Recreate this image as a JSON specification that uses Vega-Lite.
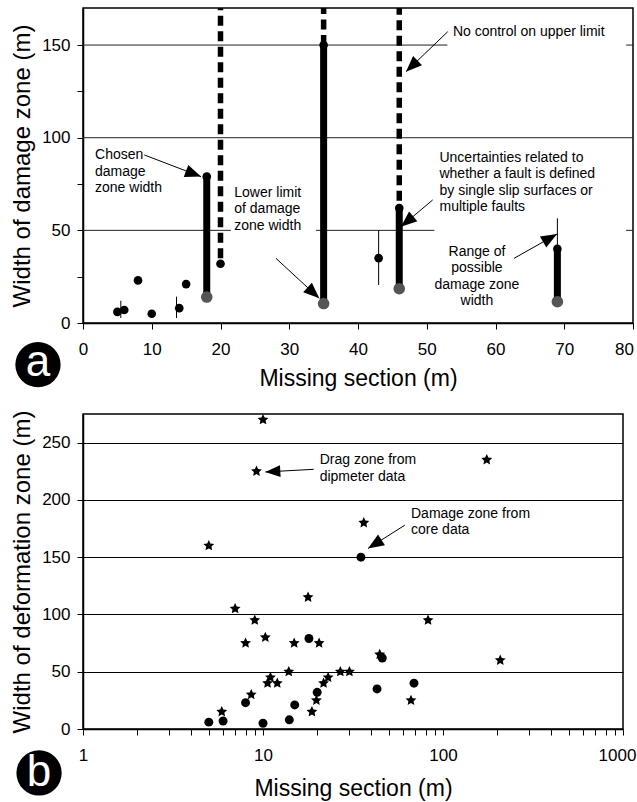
{
  "$schema": "https://vega.github.io/schema/vega-lite/v6.json",
  "padding": {"left": 9, "top": 4, "right": 5, "bottom": 2},
  "spacing": 18,
  "config": {
    "font": "Liberation Sans",
    "view": {"stroke": "black", "strokeWidth": 1.5},
    "axis": {
      "domainColor": "black", "domainWidth": 1.5, "tickColor": "black", "tickWidth": 1, "tickSize": 6,
      "labelFont": "Liberation Sans", "labelFontSize": 17, "labelColor": "black", "labelFlush": false, "labelOverlap": false,
      "titleFont": "Liberation Sans", "titleFontWeight": "normal", "titleColor": "black", "grid": false
    },
    "axisX": {"labelPadding": 12, "titleFontSize": 23, "titlePadding": 10},
    "axisY": {"labelPadding": 7, "titleFontSize": 24, "titlePadding": 7}
  },
  "datasets": {
    "core": [
      {"ms": 5, "w": 6}, {"ms": 6, "w": 7}, {"ms": 8, "w": 23}, {"ms": 10, "w": 5}, {"ms": 14, "w": 8},
      {"ms": 15, "w": 21}, {"ms": 18, "w": 79}, {"ms": 20, "w": 32}, {"ms": 35, "w": 150}, {"ms": 43, "w": 35},
      {"ms": 46, "w": 62}, {"ms": 69, "w": 40}
    ],
    "drag": [
      {"ms": 10, "w": 270}, {"ms": 9.2, "w": 225}, {"ms": 5, "w": 160}, {"ms": 7, "w": 105}, {"ms": 9, "w": 95},
      {"ms": 8, "w": 75}, {"ms": 10.3, "w": 80}, {"ms": 14.9, "w": 75}, {"ms": 17.8, "w": 115}, {"ms": 20.5, "w": 75},
      {"ms": 13.9, "w": 50}, {"ms": 11, "w": 45}, {"ms": 10.6, "w": 40}, {"ms": 12, "w": 40}, {"ms": 8.6, "w": 30},
      {"ms": 5.9, "w": 15}, {"ms": 18.7, "w": 15}, {"ms": 19.8, "w": 25}, {"ms": 21.7, "w": 40}, {"ms": 23, "w": 45},
      {"ms": 26.9, "w": 50}, {"ms": 30.2, "w": 50}, {"ms": 36.3, "w": 180}, {"ms": 44.5, "w": 65}, {"ms": 82.6, "w": 95},
      {"ms": 175, "w": 235}, {"ms": 208, "w": 60}, {"ms": 66.4, "w": 25}
    ],
    "ranges": [
      {"ms": 18, "lo": 14, "hi": 79}, {"ms": 35, "lo": 10.5, "hi": 150},
      {"ms": 46, "lo": 18.5, "hi": 62}, {"ms": 69, "lo": 11.5, "hi": 40}
    ],
    "open": [
      {"ms": 20, "lo": 35, "hi": 170}, {"ms": 35, "lo": 150, "hi": 170}, {"ms": 46, "lo": 66, "hi": 170}
    ],
    "spread": [
      {"ms": 5.5, "lo": 2.7, "hi": 12}, {"ms": 13.6, "lo": 2.7, "hi": 14.2},
      {"ms": 43, "lo": 20.5, "hi": 50}, {"ms": 69, "lo": 40, "hi": 56.5}
    ],
    "gridA": [
      {"y": 150, "x0": 0, "x1": 53}, {"y": 150, "x0": 79, "x1": 80},
      {"y": 100, "x0": 0, "x1": 80},
      {"y": 50, "x0": 0, "x1": 21.5}, {"y": 50, "x0": 33.9, "x1": 51.1}, {"y": 50, "x0": 79, "x1": 80}
    ],
    "notesA": [
      {"ms": 1.75, "w": 88.5, "t": "Chosen\ndamage\nzone width"},
      {"ms": 22.0, "w": 68.2, "t": "Lower limit\nof damage\nzone  width"},
      {"ms": 53.8, "w": 154.9, "t": "No control on upper limit"},
      {"ms": 51.85, "w": 87.0, "t": "Uncertainties related to\nwhether a fault is defined\nby  single slip surfaces or\nmultiple faults"}
    ],
    "notesA2": [
      {"ms": 57.3, "w": 36.2, "t": "Range of\npossible\ndamage zone\nwidth"}
    ],
    "notesB": [
      {"ms": 20.65, "w": 231, "t": "Drag  zone from\ndipmeter data"},
      {"ms": 66.4, "w": 184.6, "t": "Damage  zone from\ncore data"}
    ],
    "arrowsA": [
      {"id": 1, "x1": 8.92, "y1": 90.7, "x2": 17.16, "y2": 79.0},
      {"id": 2, "x1": 28.07, "y1": 34.9, "x2": 34.37, "y2": 13.3},
      {"id": 3, "x1": 53.05, "y1": 157.2, "x2": 46.98, "y2": 135.6},
      {"id": 4, "x1": 50.86, "y1": 66.4, "x2": 46.25, "y2": 52.0},
      {"id": 5, "x1": 62.7, "y1": 34.9, "x2": 68.95, "y2": 48.0}
    ],
    "arrowsB": [
      {"id": 6, "x1": 19.13, "y1": 226.7, "x2": 10.3, "y2": 224.4},
      {"id": 7, "x1": 61.3, "y1": 177.9, "x2": 38.3, "y2": 157.6}
    ],
    "tagA": [{"ms": -6.55, "w": -22.5, "t": "a"}],
    "tagB": [{"ms": 0.57, "w": -38.4, "t": "b"}]
  },
  "vconcat": [
    {
      "width": 550,
      "height": 315,
      "layer": [
        {
          "data": {"name": "gridA"},
          "mark": {"type": "rule", "color": "#222", "strokeWidth": 1},
          "encoding": {
            "x": {"field": "x0", "type": "quantitative", "scale": {"domain": [0, 80], "nice": false},
              "axis": {"values": [0, 5, 10, 15, 20, 25, 30, 35, 40, 45, 50, 55, 60, 65, 70, 75, 80],
                "labelExpr": "datum.value % 10 === 0 ? datum.label : ''",
                "labelOffset": {"condition": {"test": "datum.value === 80", "value": -9}, "value": 0},
                "title": "Missing section (m)"}},
            "x2": {"field": "x1"},
            "y": {"field": "y", "type": "quantitative", "scale": {"domain": [0, 170], "nice": false},
              "axis": {"values": [0, 25, 50, 75, 100, 125, 150],
                "labelExpr": "datum.value % 50 === 0 ? datum.label : ''", "title": "Width of damage zone (m)"}}
          }
        },
        {
          "data": {"name": "spread"},
          "mark": {"type": "rule", "color": "black", "strokeWidth": 1},
          "encoding": {
            "x": {"field": "ms", "type": "quantitative", "scale": {"domain": [0, 80], "nice": false}},
            "y": {"field": "lo", "type": "quantitative", "scale": {"domain": [0, 170], "nice": false}},
            "y2": {"field": "hi"}
          }
        },
        {
          "data": {"name": "open"},
          "mark": {"type": "rule", "color": "black", "strokeWidth": 5.5, "strokeDash": [10, 5.5]},
          "encoding": {
            "x": {"field": "ms", "type": "quantitative", "scale": {"domain": [0, 80], "nice": false}},
            "y": {"field": "lo", "type": "quantitative", "scale": {"domain": [0, 170], "nice": false}},
            "y2": {"field": "hi"}
          }
        },
        {
          "data": {"name": "ranges"},
          "mark": {"type": "rule", "color": "black", "strokeWidth": 7, "strokeCap": "round"},
          "encoding": {
            "x": {"field": "ms", "type": "quantitative", "scale": {"domain": [0, 80], "nice": false}},
            "y": {"field": "lo", "type": "quantitative", "scale": {"domain": [0, 170], "nice": false}},
            "y2": {"field": "hi"}
          }
        },
        {
          "data": {"name": "ranges"},
          "mark": {"type": "point", "shape": "circle", "filled": true, "size": 135, "color": "#555", "opacity": 1},
          "encoding": {
            "x": {"field": "ms", "type": "quantitative", "scale": {"domain": [0, 80], "nice": false}},
            "y": {"field": "lo", "type": "quantitative", "scale": {"domain": [0, 170], "nice": false}}
          }
        },
        {
          "data": {"name": "core"},
          "mark": {"type": "point", "shape": "circle", "filled": true, "size": 75, "color": "black", "opacity": 1},
          "encoding": {
            "x": {"field": "ms", "type": "quantitative", "scale": {"domain": [0, 80], "nice": false}},
            "y": {"field": "w", "type": "quantitative", "scale": {"domain": [0, 170], "nice": false}}
          }
        },
        {
          "data": {"name": "notesA"},
          "mark": {"type": "text", "align": "left", "baseline": "alphabetic", "fontSize": 14, "lineBreak": "\n", "lineHeight": 16.5, "color": "black"},
          "encoding": {
            "x": {"field": "ms", "type": "quantitative", "scale": {"domain": [0, 80], "nice": false}},
            "y": {"field": "w", "type": "quantitative", "scale": {"domain": [0, 170], "nice": false}},
            "text": {"field": "t"}
          }
        },
        {
          "data": {"name": "notesA2"},
          "mark": {"type": "text", "align": "center", "baseline": "alphabetic", "fontSize": 14, "lineBreak": "\n", "lineHeight": 16.5, "color": "black"},
          "encoding": {
            "x": {"field": "ms", "type": "quantitative", "scale": {"domain": [0, 80], "nice": false}},
            "y": {"field": "w", "type": "quantitative", "scale": {"domain": [0, 170], "nice": false}},
            "text": {"field": "t"}
          }
        },
        {
          "data": {"name": "arrowsA"},
          "mark": {"type": "rule", "color": "black", "strokeWidth": 1},
          "encoding": {
            "x": {"field": "x1", "type": "quantitative", "scale": {"domain": [0, 80], "nice": false}},
            "y": {"field": "y1", "type": "quantitative", "scale": {"domain": [0, 170], "nice": false}},
            "x2": {"field": "x2"},
            "y2": {"field": "y2"}
          }
        },
        {
          "data": {"name": "arrowsA"},
          "transform": [{"filter": "datum.id === 1"}],
          "mark": {"type": "point", "shape": "M0,0L-1,-0.4L-1,0.4Z", "size": 1024, "angle": 20.9, "filled": true, "color": "black", "opacity": 1, "strokeWidth": 0},
          "encoding": {
            "x": {"field": "x2", "type": "quantitative", "scale": {"domain": [0, 80], "nice": false}},
            "y": {"field": "y2", "type": "quantitative", "scale": {"domain": [0, 170], "nice": false}}
          }
        },
        {
          "data": {"name": "arrowsA"},
          "transform": [{"filter": "datum.id === 2"}],
          "mark": {"type": "point", "shape": "M0,0L-1,-0.4L-1,0.4Z", "size": 1024, "angle": 42.7, "filled": true, "color": "black", "opacity": 1, "strokeWidth": 0},
          "encoding": {
            "x": {"field": "x2", "type": "quantitative", "scale": {"domain": [0, 80], "nice": false}},
            "y": {"field": "y2", "type": "quantitative", "scale": {"domain": [0, 170], "nice": false}}
          }
        },
        {
          "data": {"name": "arrowsA"},
          "transform": [{"filter": "datum.id === 3"}],
          "mark": {"type": "point", "shape": "M0,0L-1,-0.4L-1,0.4Z", "size": 1024, "angle": 136.2, "filled": true, "color": "black", "opacity": 1, "strokeWidth": 0},
          "encoding": {
            "x": {"field": "x2", "type": "quantitative", "scale": {"domain": [0, 80], "nice": false}},
            "y": {"field": "y2", "type": "quantitative", "scale": {"domain": [0, 170], "nice": false}}
          }
        },
        {
          "data": {"name": "arrowsA"},
          "transform": [{"filter": "datum.id === 4"}],
          "mark": {"type": "point", "shape": "M0,0L-1,-0.4L-1,0.4Z", "size": 1024, "angle": 139.9, "filled": true, "color": "black", "opacity": 1, "strokeWidth": 0},
          "encoding": {
            "x": {"field": "x2", "type": "quantitative", "scale": {"domain": [0, 80], "nice": false}},
            "y": {"field": "y2", "type": "quantitative", "scale": {"domain": [0, 170], "nice": false}}
          }
        },
        {
          "data": {"name": "arrowsA"},
          "transform": [{"filter": "datum.id === 5"}],
          "mark": {"type": "point", "shape": "M0,0L-1,-0.4L-1,0.4Z", "size": 1024, "angle": -29.6, "filled": true, "color": "black", "opacity": 1, "strokeWidth": 0},
          "encoding": {
            "x": {"field": "x2", "type": "quantitative", "scale": {"domain": [0, 80], "nice": false}},
            "y": {"field": "y2", "type": "quantitative", "scale": {"domain": [0, 170], "nice": false}}
          }
        },
        {
          "data": {"name": "tagA"},
          "mark": {"type": "point", "shape": "circle", "filled": true, "size": 2050, "color": "black", "opacity": 1},
          "encoding": {
            "x": {"field": "ms", "type": "quantitative", "scale": {"domain": [0, 80], "nice": false}},
            "y": {"field": "w", "type": "quantitative", "scale": {"domain": [0, 170], "nice": false}}
          }
        },
        {
          "data": {"name": "tagA"},
          "mark": {"type": "text", "align": "center", "baseline": "alphabetic", "dy": 11, "fontSize": 44, "color": "white"},
          "encoding": {
            "x": {"field": "ms", "type": "quantitative", "scale": {"domain": [0, 80], "nice": false}},
            "y": {"field": "w", "type": "quantitative", "scale": {"domain": [0, 170], "nice": false}},
            "text": {"field": "t"}
          }
        }
      ]
    },
    {
      "width": 540,
      "height": 315,
      "layer": [
        {
          "data": {"name": "drag"},
          "mark": {"type": "point", "shape": "M0,-1L0.282,-0.388L0.951,-0.309L0.456,0.148L0.588,0.809L0,0.48L-0.588,0.809L-0.456,0.148L-0.951,-0.309L-0.282,-0.388Z", "size": 130, "filled": true, "color": "black", "opacity": 1, "strokeWidth": 0},
          "encoding": {
            "x": {"field": "ms", "type": "quantitative", "scale": {"type": "log", "domain": [1, 1000], "nice": false},
              "axis": {"values": [1, 2, 3, 4, 5, 6, 7, 8, 9, 10, 20, 30, 40, 50, 60, 70, 80, 90, 100, 200, 300, 400, 500, 600, 700, 800, 900, 1000],
                "labelExpr": "(datum.value === 1 || datum.value === 10 || datum.value === 100 || datum.value === 1000) ? format(datum.value, 'd') : ''",
                "labelOffset": {"condition": {"test": "datum.value === 1000", "value": -6}, "value": 0},
                "titlePadding": 14,
                "title": "Missing section (m)"}},
            "y": {"field": "w", "type": "quantitative", "scale": {"domain": [0, 275], "nice": false},
              "axis": {"values": [0, 25, 50, 75, 100, 125, 150, 175, 200, 225, 250],
                "labelExpr": "datum.value % 50 === 0 ? datum.label : ''", "title": "Width of deformation zone (m)",
                "grid": true, "gridWidth": 1.2,
                "gridColor": {"condition": {"test": "datum.value % 50 === 0 && datum.value > 0", "value": "black"}, "value": "transparent"}}}
          }
        },
        {
          "data": {"name": "core"},
          "mark": {"type": "point", "shape": "circle", "filled": true, "size": 80, "color": "black", "opacity": 1},
          "encoding": {
            "x": {"field": "ms", "type": "quantitative", "scale": {"type": "log", "domain": [1, 1000], "nice": false}},
            "y": {"field": "w", "type": "quantitative", "scale": {"domain": [0, 275], "nice": false}}
          }
        },
        {
          "data": {"name": "notesB"},
          "mark": {"type": "text", "align": "left", "baseline": "alphabetic", "fontSize": 14, "lineBreak": "\n", "lineHeight": 16.5, "color": "black"},
          "encoding": {
            "x": {"field": "ms", "type": "quantitative", "scale": {"type": "log", "domain": [1, 1000], "nice": false}},
            "y": {"field": "w", "type": "quantitative", "scale": {"domain": [0, 275], "nice": false}},
            "text": {"field": "t"}
          }
        },
        {
          "data": {"name": "arrowsB"},
          "mark": {"type": "rule", "color": "black", "strokeWidth": 1},
          "encoding": {
            "x": {"field": "x1", "type": "quantitative", "scale": {"type": "log", "domain": [1, 1000], "nice": false}},
            "y": {"field": "y1", "type": "quantitative", "scale": {"domain": [0, 275], "nice": false}},
            "x2": {"field": "x2"},
            "y2": {"field": "y2"}
          }
        },
        {
          "data": {"name": "arrowsB"},
          "transform": [{"filter": "datum.id === 6"}],
          "mark": {"type": "point", "shape": "M0,0L-1,-0.4L-1,0.4Z", "size": 900, "angle": 176.8, "filled": true, "color": "black", "opacity": 1, "strokeWidth": 0},
          "encoding": {
            "x": {"field": "x2", "type": "quantitative", "scale": {"type": "log", "domain": [1, 1000], "nice": false}},
            "y": {"field": "y2", "type": "quantitative", "scale": {"domain": [0, 275], "nice": false}}
          }
        },
        {
          "data": {"name": "arrowsB"},
          "transform": [{"filter": "datum.id === 7"}],
          "mark": {"type": "point", "shape": "M0,0L-1,-0.4L-1,0.4Z", "size": 1024, "angle": 147.6, "filled": true, "color": "black", "opacity": 1, "strokeWidth": 0},
          "encoding": {
            "x": {"field": "x2", "type": "quantitative", "scale": {"type": "log", "domain": [1, 1000], "nice": false}},
            "y": {"field": "y2", "type": "quantitative", "scale": {"domain": [0, 275], "nice": false}}
          }
        },
        {
          "data": {"name": "tagB"},
          "mark": {"type": "point", "shape": "circle", "filled": true, "size": 2050, "color": "black", "opacity": 1},
          "encoding": {
            "x": {"field": "ms", "type": "quantitative", "scale": {"type": "log", "domain": [1, 1000], "nice": false}},
            "y": {"field": "w", "type": "quantitative", "scale": {"domain": [0, 275], "nice": false}}
          }
        },
        {
          "data": {"name": "tagB"},
          "mark": {"type": "text", "align": "center", "baseline": "alphabetic", "dy": 13, "fontSize": 44, "color": "white"},
          "encoding": {
            "x": {"field": "ms", "type": "quantitative", "scale": {"type": "log", "domain": [1, 1000], "nice": false}},
            "y": {"field": "w", "type": "quantitative", "scale": {"domain": [0, 275], "nice": false}},
            "text": {"field": "t"}
          }
        }
      ]
    }
  ]
}
